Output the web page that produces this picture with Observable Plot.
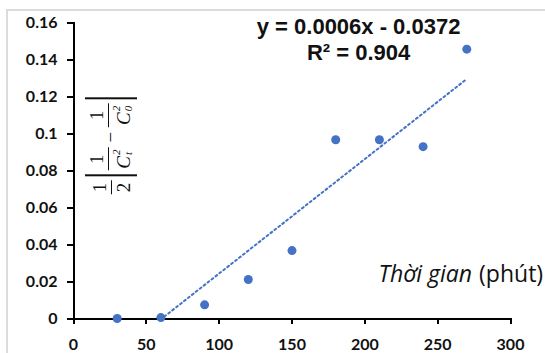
<!DOCTYPE html>
<html><head><meta charset="utf-8">
<script src="https://cdn.jsdelivr.net/npm/d3@7"></script>
<script src="https://cdn.jsdelivr.net/npm/@observablehq/plot@0.6"></script>
<style>
html,body{margin:0;padding:0;background:#fff;}
#wrap{position:relative;width:545px;height:353px;overflow:hidden;}
#frame{position:absolute;left:6px;top:9px;right:-10px;bottom:-10px;border-top:2px solid #dcdcdc;border-left:2px solid #dcdcdc;pointer-events:none;}
#chart{position:absolute;left:0;top:0;width:545px;height:353px;}
#ylab{position:absolute;left:111px;top:145px;width:0;height:0;}
.m{position:absolute;transform:translate(-50%,-50%) rotate(-90deg);display:flex;align-items:center;font-family:"Liberation Serif",serif;font-size:19px;color:#111;white-space:nowrap;}
.fr{display:inline-flex;flex-direction:column;align-items:center;margin:0 1px;}
.n{line-height:1;padding:0 2px 2px;}
.d{border-top:1.5px solid #111;line-height:1;padding:2px 2px 0;display:flex;align-items:center;}
.bar{display:inline-block;width:0;height:52px;border-left:2px solid #111;margin:0 3px;}
.ss{display:inline-flex;flex-direction:column;font-size:11px;line-height:1.05;margin-left:1px;font-style:italic;}
.op{margin:0 4px;}
</style></head><body>
<div id="wrap"><div id="frame"></div><div id="chart"></div>
<div id="ylab"><div class="m">
  <span class="fr"><span class="n">1</span><span class="d">2</span></span>
  <span class="bar"></span>
  <span class="fr"><span class="n">1</span><span class="d"><i>C</i><span class="ss"><span>2</span><span>t</span></span></span></span>
  <span class="op">−</span>
  <span class="fr"><span class="n">1</span><span class="d"><i>C</i><span class="ss"><span>2</span><span>0</span></span></span></span>
  <span class="bar"></span>
</div></div>
</div>
<script>
const times = [30, 60, 90, 120, 150, 180, 210, 240, 270];
const values = [0, 0.0005, 0.0074, 0.0211, 0.0367, 0.0966, 0.0966, 0.0929, 0.1456];
const xTicks = [0, 50, 100, 150, 200, 250, 300];
const yTicks = [0, 0.02, 0.04, 0.06, 0.08, 0.1, 0.12, 0.14, 0.16];
const yTickLabels = ["0", "0.02", "0.04", "0.06", "0.08", "0.1", "0.12", "0.14", "0.16"];
const equationLines = ["y = 0.0006x - 0.0372", "R² = 0.904"];
const xTitleItalic = "Thời gian";
const xTitleRegular = "(phút)";

const data = times.map((t, i) => ({t, v: values[i]}));
const blue = "#4472C4";
const ink = "#000000";

const chart = Plot.plot({
  width: 545, height: 353,
  marginLeft: 73, marginRight: 35, marginTop: 22, marginBottom: 35,
  x: {domain: [0, 300]},
  y: {domain: [0, 0.16]},
  style: {background: "transparent", fontFamily: "Lato, sans-serif", color: ink, overflow: "visible", maxWidth: "none"},
  marks: [
    Plot.axisX(xTicks, {tickSize: 6, tickPadding: 14, fontSize: 16, fontWeight: "bold", stroke: ink, strokeWidth: 2, strokeOpacity: 1, shapeRendering: "crispEdges", fill: "#111", label: null, tickFormat: d => String(d)}),
    Plot.axisY(yTicks, {tickSize: 6, tickPadding: 10, fontSize: 16, fontWeight: "bold", stroke: ink, strokeWidth: 2, strokeOpacity: 1, shapeRendering: "crispEdges", fill: "#111", label: null, tickFormat: d => yTickLabels[yTicks.indexOf(d)]}),
    Plot.ruleX([0], {stroke: ink, strokeWidth: 2, shapeRendering: "crispEdges"}),
    Plot.ruleY([0], {stroke: ink, strokeWidth: 2, shapeRendering: "crispEdges"}),
    Plot.linearRegressionY(data, {x: "t", y: "v", stroke: blue, strokeWidth: 2, strokeDasharray: "2,3", ci: 0, clip: true}),
    Plot.dot(data, {x: "t", y: "v", r: 4.5, fill: blue}),
    Plot.text([equationLines.join("\n")], {x: 195.7, y: 0.1397, lineAnchor: "bottom", textAnchor: "middle", lineHeight: 1.2, fontSize: 22, fontWeight: "bold", fontFamily: "Liberation Sans, Arial, sans-serif", fill: "#111"}),
    Plot.text([xTitleItalic], {x: 275, y: 0.0196, lineAnchor: "bottom", textAnchor: "end", dx: -2, fontSize: 23, fontStyle: "italic", fontFamily: "Open Sans, sans-serif", fill: "#111"}),
    Plot.text([xTitleRegular], {x: 275, y: 0.0196, lineAnchor: "bottom", textAnchor: "start", dx: 5, fontSize: 23, fontFamily: "Open Sans, sans-serif", fill: "#111"})
  ]
});
document.getElementById("chart").appendChild(chart);
</script>
</body></html>
